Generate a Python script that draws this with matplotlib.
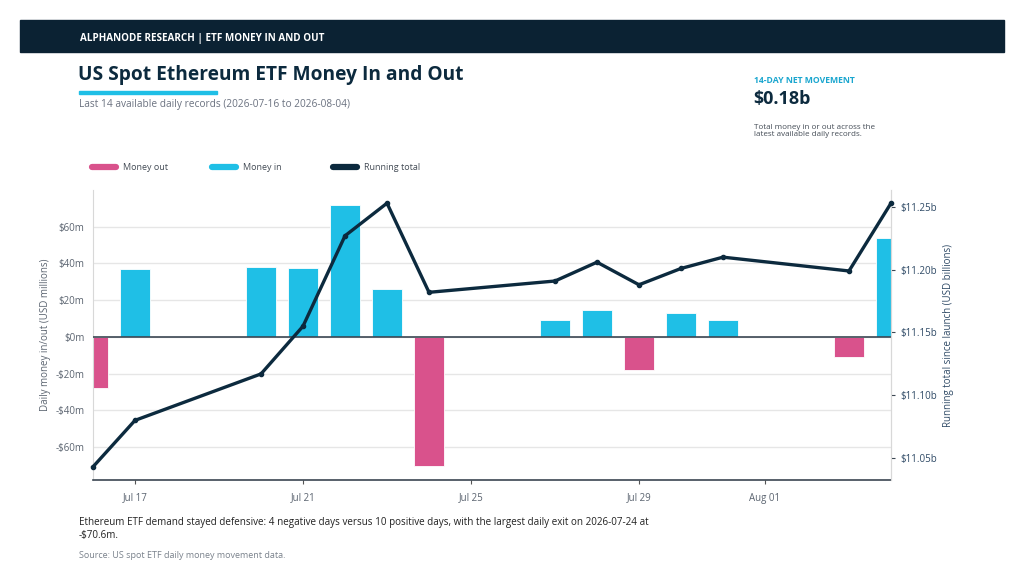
import matplotlib
matplotlib.use('Agg')
import matplotlib.pyplot as plt
import matplotlib.dates as mdates
from matplotlib.lines import Line2D
from matplotlib.patches import Rectangle
from datetime import datetime

# Daily records (USD millions) and running total since launch (USD billions)
dates = ['2026-07-16', '2026-07-17', '2026-07-20', '2026-07-21', '2026-07-22',
         '2026-07-23', '2026-07-24', '2026-07-27', '2026-07-28', '2026-07-29',
         '2026-07-30', '2026-07-31', '2026-08-03', '2026-08-04']
flows = [-28.0, 37.0, 38.0, 37.5, 72.0, 26.0, -70.6, 9.0, 14.5, -18.0,
         13.0, 9.0, -11.0, 54.0]
running = [11.043, 11.080, 11.117, 11.155, 11.227, 11.253, 11.182, 11.191,
           11.206, 11.188, 11.201, 11.210, 11.199, 11.253]
tick_dates = ['2026-07-17', '2026-07-21', '2026-07-25', '2026-07-29', '2026-08-01']
left_ticks = [-60, -40, -20, 0, 20, 40, 60]
right_ticks = [11.05, 11.10, 11.15, 11.20, 11.25]

NAVY = '#0c2a3e'
CYAN = '#1fbfe6'
PINK = '#d9528c'
GRAY = '#5b6470'

plt.rcParams['font.family'] = ['Open Sans', 'DejaVu Sans']

x = [datetime.strptime(d, '%Y-%m-%d') for d in dates]
ticks = [datetime.strptime(d, '%Y-%m-%d') for d in tick_dates]
bar_colors = [PINK if v < 0 else CYAN for v in flows]

fig = plt.figure(figsize=(10.24, 5.82), dpi=100)

# Header band
fig.add_artist(Rectangle((20/1024, 1 - 52/582), 984/1024, 32/582,
                         transform=fig.transFigure, color='#0b2233', zorder=0))
fig.text(80/1024, 1 - 38/582, 'ALPHANODE RESEARCH | ETF MONEY IN AND OUT',
         color='white', fontsize=7.15, fontweight='bold', va='center')

# Title block
fig.text(78/1024, 1 - 75/582, 'US Spot Ethereum ETF Money In and Out',
         color=NAVY, fontsize=13.8, fontweight='bold', va='center')
fig.add_artist(Rectangle((79/1024, 1 - 94/582), 138/1024, 3.5/582,
                         transform=fig.transFigure, color=CYAN))
fig.text(79/1024, 1 - 104/582,
         'Last 14 available daily records (2026-07-16 to 2026-08-04)',
         color='#6b7280', fontsize=7.3, va='center')

# Summary box
fig.text(754/1024, 1 - 81/582, '14-DAY NET MOVEMENT', color='#1aa6cf',
         fontsize=6.2, fontweight='bold', va='center')
fig.text(753/1024, 1 - 99/582, '$0.18b', color=NAVY, fontsize=13,
         fontweight='bold', va='center')
fig.text(754/1024, 1 - 131/582,
         'Total money in or out across the\nlatest available daily records.',
         color='#444c56', fontsize=5.8, va='center', linespacing=1.1)

# Legend
legend_items = [('Money out', PINK, 92), ('Money in', CYAN, 212),
                ('Running total', NAVY, 333)]
for label, color, lx in legend_items:
    fig.add_artist(Line2D([lx/1024, (lx + 24)/1024], [1 - 167/582, 1 - 167/582],
                          transform=fig.transFigure, color=color, lw=4.5,
                          solid_capstyle='round'))
    fig.text((lx + 31)/1024, 1 - 167/582, label, color='#444c56',
             fontsize=6.5, va='center')

# Main axes
ax = fig.add_axes([93/1024, 1 - 480/582, 798/1024, 290/582])
ax.bar(x, flows, width=0.72, color=bar_colors, edgecolor='white',
       linewidth=0.6, zorder=2)
ax.axhline(0, color='#3b4652', lw=1.2, zorder=3)
ax.set_ylim(-78, 80)
ax.set_xlim(x[0], x[-1])
ax.set_yticks(left_ticks)
ax.set_yticklabels([('-$%dm' % -v) if v < 0 else ('$%dm' % v) for v in left_ticks])
ax.grid(axis='y', color='#e6e6e6', lw=1, zorder=0)
ax.set_axisbelow(True)
ax.tick_params(axis='y', length=0, labelsize=7, labelcolor=GRAY, pad=6)
ax.set_xticks(ticks)
ax.xaxis.set_major_formatter(mdates.DateFormatter('%b %d'))
ax.tick_params(axis='x', length=3, color='#555555', labelsize=7,
               labelcolor=GRAY, pad=6)
ax.set_ylabel('Daily money in/out (USD millions)', fontsize=7, color=GRAY,
              labelpad=3)
ax.spines['top'].set_visible(False)
ax.spines['left'].set_color('#d8d8d8')
ax.spines['right'].set_color('#d8d8d8')
ax.spines['bottom'].set_color('#3b4652')
ax.spines['bottom'].set_linewidth(1.2)

# Running total on twin axis
ax2 = ax.twinx()
ax2.plot(x, running, color=NAVY, lw=2.4, marker='o', markersize=3,
         zorder=5, clip_on=False)
ax2.set_ylim(11.0325, 11.2635)
ax2.set_yticks(right_ticks)
ax2.set_yticklabels(['$%.2fb' % v for v in right_ticks])
ax2.tick_params(axis='y', length=3, color='#3b4652', labelsize=7,
                labelcolor='#2f4a66', pad=4)
ax2.set_ylabel('Running total since launch (USD billions)', fontsize=7,
               color='#2f4a66', labelpad=4)
ax2.spines['top'].set_visible(False)
ax2.spines['left'].set_visible(False)
ax2.spines['bottom'].set_visible(False)
ax2.spines['right'].set_color('#d8d8d8')

# Footnotes
fig.text(79/1024, 1 - 529/582,
         'Ethereum ETF demand stayed defensive: 4 negative days versus 10 positive days, '
         'with the largest daily exit on 2026-07-24 at\n-$70.6m.',
         color='#222222', fontsize=7.1, va='center', linespacing=1.2)
fig.text(79/1024, 1 - 556/582, 'Source: US spot ETF daily money movement data.',
         color='#7a828c', fontsize=6.5, va='center')

fig.savefig('out.png', dpi=100)
